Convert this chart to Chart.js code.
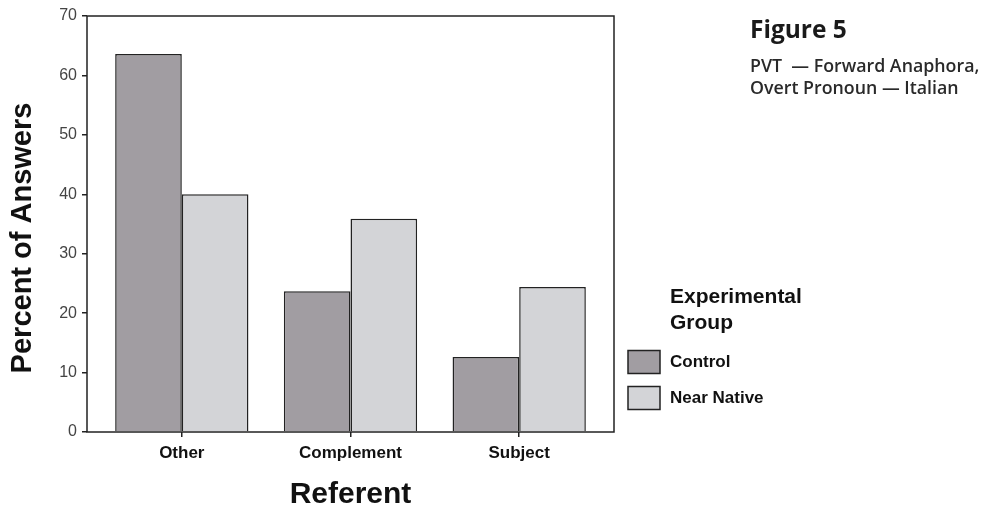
<!DOCTYPE html>
<html lang="en">
<head>
<meta charset="UTF-8">
<title>Figure 5</title>
<script src="https://cdn.jsdelivr.net/npm/chart.js@4.4.1/dist/chart.umd.min.js"></script>
<style>
  body { margin: 0; background: #fff; }
  #wrap { position: relative; width: 1000px; height: 510px; }
  .cap { position: absolute; left: 750px; font-family: "Open Sans", "Noto Sans", sans-serif; color: #2a2a2a; white-space: nowrap; }
  #figTitle { top: 11px; font-size: 24.5px; font-weight: 700; color: #1a1a1a; line-height: 36px; }
  #figSub { top: 55px; font-size: 17.8px; font-weight: 600; line-height: 21.6px; }
</style>
</head>
<body>
<div id="wrap">
  <canvas id="myChart" width="1000" height="510"></canvas>
  <div class="cap" id="figTitle">Figure 5</div>
  <div class="cap" id="figSub">PVT &nbsp;— Forward Anaphora,<br>Overt Pronoun — Italian</div>
</div>
<script>
// data
const categories = ['Other', 'Complement', 'Subject']
const control = [63.6, 23.7, 12.6]
const nearNative = [40.0, 35.9, 24.4]
const yTicks = [0, 10, 20, 30, 40, 50, 60, 70]
const groups = ['Control', 'Near Native']
const groupTitle = ['Experimental', 'Group']

const colControl = '#a19da2'
const colNative = '#d3d4d7'
const ink = '#222'

// linear x so the outer margins of the box can be wider than the group spacing
function pts(vals) {
    return vals.map((v, i) => ({ x: i, y: v }))
}

const boxPlugin = {
    id: 'boxPlugin',
    afterDraw(chart) {
        const ctx = chart.ctx
        const a = chart.chartArea
        ctx.save()
        ctx.strokeStyle = ink
        ctx.lineWidth = 1.5
        ctx.strokeRect(a.left, a.top, a.right - a.left, a.bottom - a.top)

        // y axis title
        ctx.fillStyle = '#111'
        ctx.font = 'bold 29px "Liberation Sans", Arial, sans-serif'
        ctx.textAlign = 'center'
        ctx.textBaseline = 'middle'
        ctx.translate(23, 238)
        ctx.rotate(-Math.PI / 2)
        ctx.fillText('Percent of Answers', 0, 0)
        ctx.restore()

        // legend
        ctx.save()
        const lx = 670
        ctx.fillStyle = '#111'
        ctx.textAlign = 'left'
        ctx.textBaseline = 'middle'
        ctx.font = 'bold 21px "Liberation Sans", Arial, sans-serif'
        ctx.fillText(groupTitle[0], lx, 297)
        ctx.fillText(groupTitle[1], lx, 323)
        ctx.font = 'bold 17px "Liberation Sans", Arial, sans-serif'
        const rows = [362, 398]
        chart.data.datasets.forEach((ds, i) => {
            ctx.fillStyle = ds.backgroundColor
            ctx.fillRect(628, rows[i] - 11.5, 32, 23)
            ctx.strokeStyle = ink
            ctx.lineWidth = 1.5
            ctx.strokeRect(628, rows[i] - 11.5, 32, 23)
            ctx.fillStyle = '#111'
            ctx.fillText(ds.label, lx, rows[i])
        })
        ctx.restore()
    }
}

new Chart(document.getElementById('myChart'), {
    type: 'bar',
    data: {
        datasets: [
            { label: groups[0], data: pts(control), backgroundColor: colControl, borderColor: ink, borderWidth: 1.5 },
            { label: groups[1], data: pts(nearNative), backgroundColor: colNative, borderColor: ink, borderWidth: 1.5 }
        ]
    },
    options: {
        responsive: false,
        animation: false,
        devicePixelRatio: 1,
        layout: { padding: { left: 0, right: 386, top: 16, bottom: 0 } },
        datasets: { bar: { barPercentage: 1.0, categoryPercentage: 0.79 } },
        plugins: { legend: { display: false }, tooltip: { enabled: false } },
        scales: {
            x: {
                type: 'linear',
                offset: false,
                min: -0.562,
                max: 2.562,
                afterBuildTicks(scale) {
                    scale.ticks = categories.map((c, i) => ({ value: i }))
                },
                afterFit(scale) { scale.height = 78 },
                border: { display: false },
                grid: { offset: false, drawOnChartArea: false, drawTicks: true, tickLength: 5, color: ink, lineWidth: 1.5 },
                ticks: {
                    padding: 6,
                    color: '#111',
                    font: { family: '"Liberation Sans", Arial, sans-serif', size: 17, weight: 'bold' },
                    callback: (v) => categories[v]
                },
                title: {
                    display: true,
                    text: 'Referent',
                    color: '#111',
                    padding: { top: 0, bottom: 0 },
                    font: { family: '"Liberation Sans", Arial, sans-serif', size: 30, weight: 'bold', lineHeight: 1 }
                }
            },
            y: {
                min: 0,
                max: 70,
                afterBuildTicks(scale) {
                    scale.ticks = yTicks.map(v => ({ value: v }))
                },
                afterFit(scale) { scale.width = 87 },
                border: { display: false },
                grid: { drawOnChartArea: false, drawTicks: true, tickLength: 5, color: ink, lineWidth: 1.5 },
                ticks: {
                    padding: 5,
                    color: '#444',
                    font: { family: '"Liberation Sans", Arial, sans-serif', size: 16 }
                }
            }
        }
    },
    plugins: [boxPlugin]
})
</script>
</body>
</html>
